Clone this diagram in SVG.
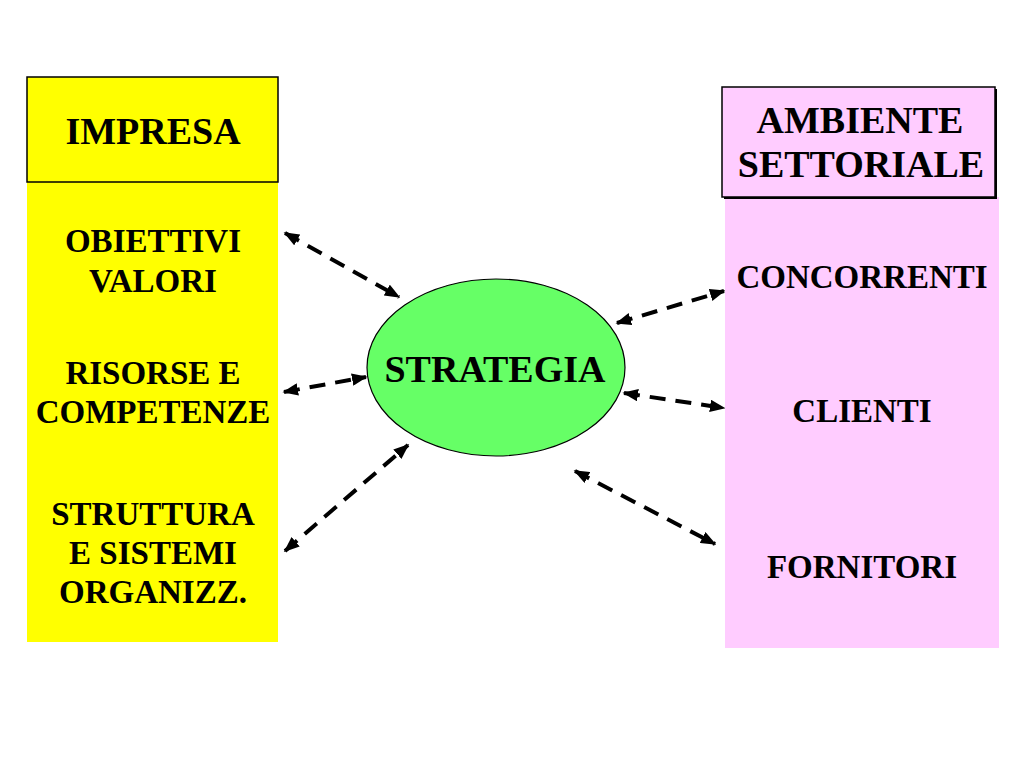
<svg xmlns="http://www.w3.org/2000/svg" width="1024" height="768" viewBox="0 0 1024 768">
<defs>
<style>
text{font-family:"Liberation Serif","Times New Roman",serif;font-weight:bold;fill:#000;text-anchor:middle}
.t{font-size:38px}
.s{font-size:33px}
.conn{stroke:#000;stroke-width:4;stroke-dasharray:16 10;fill:none;marker-start:url(#ah);marker-end:url(#ah)}
</style>
<marker id="ah" viewBox="0 0 10 8" refX="9" refY="4" markerWidth="3.9" markerHeight="3.12" orient="auto-start-reverse" markerUnits="strokeWidth">
<path d="M0,0 L10,4 L0,8 Z" fill="#000"/>
</marker>
</defs>
<rect width="1024" height="768" fill="#fff"/>
<g id="impresa">
<rect x="27" y="182" width="251" height="460" fill="#ffff00"/>
<rect x="27" y="77" width="251" height="105" fill="#ffff00" stroke="#000" stroke-width="1.5"/>
<text class="t" x="153" y="144">IMPRESA</text>
<text class="s" x="153" y="252">OBIETTIVI</text>
<text class="s" x="153" y="292">VALORI</text>
<text class="s" x="153" y="384">RISORSE E</text>
<text class="s" x="153" y="423">COMPETENZE</text>
<text class="s" x="153" y="525">STRUTTURA</text>
<text class="s" x="153" y="564">E SISTEMI</text>
<text class="s" x="153" y="603">ORGANIZZ.</text>
</g>
<g id="ambiente">
<rect x="725" y="197" width="274" height="451" fill="#ffccff"/>
<rect x="724" y="89" width="273" height="110" fill="#000"/>
<rect x="722" y="87" width="273" height="110" fill="#ffccff" stroke="#000" stroke-width="1.5"/>
<text class="t" x="860" y="133">AMBIENTE</text>
<text class="t" x="861" y="177">SETTORIALE</text>
<text class="s" x="862" y="288">CONCORRENTI</text>
<text class="s" x="862" y="422">CLIENTI</text>
<text class="s" x="862" y="578">FORNITORI</text>
</g>
<g id="strategia">
<ellipse cx="496" cy="367.5" rx="129" ry="88.5" fill="#66ff66" stroke="#000" stroke-width="1.2"/>
<text class="t" x="495" y="382">STRATEGIA</text>
</g>
<g id="connectors">
<line class="conn" x1="285" y1="233" x2="399" y2="297"/>
<line class="conn" x1="284" y1="392" x2="366" y2="377"/>
<line class="conn" x1="285" y1="551" x2="408" y2="445"/>
<line class="conn" x1="617" y1="323" x2="724" y2="291"/>
<line class="conn" x1="624" y1="393" x2="724" y2="408"/>
<line class="conn" x1="575" y1="471" x2="715" y2="544"/>
</g>
</svg>
